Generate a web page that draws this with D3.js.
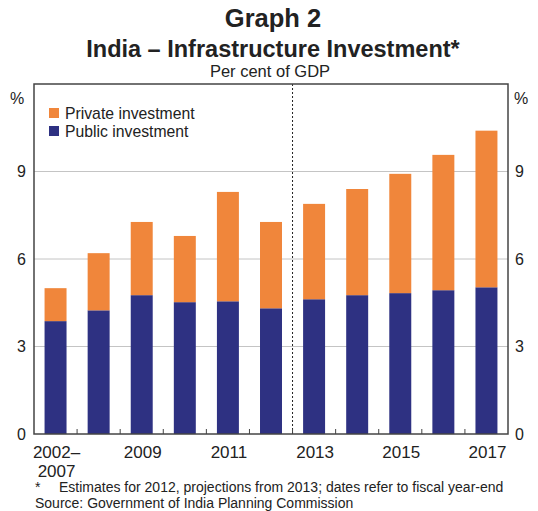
<!DOCTYPE html>
<html>
<head>
<meta charset="utf-8">
<script src="https://cdn.jsdelivr.net/npm/d3@7"></script>
<style>
  body { margin: 0; background: #fff; }
  text { font-family: Arial, "Liberation Sans", sans-serif; fill: #222; }
</style>
</head>
<body>
<div id="chart"></div>
<script>
// data (per cent of GDP)
var years = ["2002–2007", "2008", "2009", "2010", "2011", "2012", "2013", "2014", "2015", "2016", "2017"];
var publicInv  = [3.87, 4.24, 4.76, 4.52, 4.55, 4.31, 4.62, 4.76, 4.83, 4.93, 5.03];
var privateInv = [1.13, 1.96, 2.51, 2.27, 3.75, 2.96, 3.27, 3.64, 4.09, 4.64, 5.37];
var yTicks = [0, 3, 6, 9];
var xLabelled = ["2002–2007", "2009", "2011", "2013", "2015", "2017"];

var W = 538, H = 511;
var margin = {top: 84, right: 30, bottom: 77, left: 34},
    width = W - margin.left - margin.right,
    height = H - margin.top - margin.bottom;

var svg = d3.select("#chart").append("svg")
    .attr("width", W)
    .attr("height", H);

// titles
svg.append("text").attr("x", W / 2 + 4).attr("y", 27)
    .attr("text-anchor", "middle").style("font-size", "25.5px").style("font-weight", "bold")
    .text("Graph 2");
svg.append("text").attr("x", W / 2 + 4).attr("y", 57)
    .attr("text-anchor", "middle").style("font-size", "23.5px").style("font-weight", "bold")
    .text("India – Infrastructure Investment*");
svg.append("text").attr("x", W / 2 + 1).attr("y", 77)
    .attr("text-anchor", "middle").style("font-size", "16.5px")
    .text("Per cent of GDP");

var g = svg.append("g")
    .attr("transform", "translate(" + margin.left + "," + margin.top + ")");

var x = d3.scaleBand().domain(years).range([0, width]).paddingInner(0.49).paddingOuter(0.245);
var y = d3.scaleLinear().domain([0, 12]).range([height, 0]);

// gridlines
g.selectAll(".grid")
    .data(yTicks.filter(function(d) { return d > 0; }))
  .enter().append("line")
    .attr("x1", 0).attr("x2", width)
    .attr("y1", function(d) { return y(d); })
    .attr("y2", function(d) { return y(d); })
    .attr("stroke", "#c4c4c4").attr("stroke-width", 1);

// stacked bars
var rows = years.map(function(yr, i) {
  return {year: yr, pub: publicInv[i], priv: privateInv[i]};
});
var stack = d3.stack().keys(["pub", "priv"])(rows);
var colours = {pub: "#2e3182", priv: "#f0863b"};

g.selectAll(".series")
    .data(stack)
  .enter().append("g")
    .attr("fill", function(d) { return colours[d.key]; })
  .selectAll("rect")
    .data(function(d) { return d; })
  .enter().append("rect")
    .attr("x", function(d) { return x(d.data.year); })
    .attr("width", x.bandwidth())
    .attr("y", function(d) { return y(d[1]); })
    .attr("height", function(d) { return y(d[0]) - y(d[1]); });

// dashed line between 2012 and 2013
var step = x.step();
var splitX = x("2013") - x.paddingInner() * step / 2;
g.append("line")
    .attr("x1", splitX).attr("x2", splitX)
    .attr("y1", 0).attr("y2", height)
    .attr("stroke", "#222").attr("stroke-width", 1)
    .attr("stroke-dasharray", "2,2");

// x tick marks at band boundaries
var bounds = years.slice(1).map(function(yr) { return x(yr) - x.paddingInner() * step / 2; });
g.selectAll(".xtick")
    .data(bounds)
  .enter().append("line")
    .attr("x1", function(d) { return d; }).attr("x2", function(d) { return d; })
    .attr("y1", height).attr("y2", height - 5)
    .attr("stroke", "#444").attr("stroke-width", 1);

// frame
g.append("rect")
    .attr("width", width).attr("height", height)
    .attr("fill", "none").attr("stroke", "#444").attr("stroke-width", 1.5);

// y axes labels
var yLeft = d3.axisLeft(y).tickValues(yTicks).tickSize(0).tickPadding(8);
var yRight = d3.axisRight(y).tickValues(yTicks).tickSize(0).tickPadding(7);
g.append("g").call(yLeft).call(function(s) { s.select(".domain").remove(); })
  .selectAll("text").style("font-size", "16px").attr("fill", "#222");
g.append("g").attr("transform", "translate(" + width + ",0)").call(yRight)
  .call(function(s) { s.select(".domain").remove(); })
  .selectAll("text").style("font-size", "16px").attr("fill", "#222");

g.append("text").attr("x", -17).attr("y", 20)
    .attr("text-anchor", "middle").style("font-size", "16px").text("%");
g.append("text").attr("x", width + 13).attr("y", 20)
    .attr("text-anchor", "middle").style("font-size", "16px").text("%");

// x labels
var xl = g.selectAll(".xlab")
    .data(xLabelled)
  .enter().append("text")
    .attr("text-anchor", "middle")
    .style("font-size", "17px")
    .attr("transform", function(d) {
      return "translate(" + (x(d) + x.bandwidth() / 2 + 1) + "," + (height + 23.5) + ")";
    });
xl.each(function(d) {
  var parts = d.indexOf("–") > 0 ? [d.split("–")[0] + "–", d.split("–")[1]] : [d];
  var t = d3.select(this);
  parts.forEach(function(p, i) {
    t.append("tspan").attr("x", 0).attr("dy", i ? 19.5 : 0).text(p);
  });
});

// legend
var legend = [{label: "Private investment", key: "priv"}, {label: "Public investment", key: "pub"}];
var lg = g.selectAll(".legend")
    .data(legend)
  .enter().append("g")
    .attr("transform", function(d, i) { return "translate(15," + (24 + i * 18) + ")"; });
lg.append("rect").attr("width", 10).attr("height", 10)
    .attr("fill", function(d) { return colours[d.key]; });
lg.append("text").attr("x", 16).attr("y", 10.5)
    .style("font-size", "15.75px").text(function(d) { return d.label; });

// footnotes
svg.append("text").attr("x", 35).attr("y", 492).style("font-size", "14px").text("*");
svg.append("text").attr("x", 59).attr("y", 492).style("font-size", "14px")
    .text("Estimates for 2012, projections from 2013; dates refer to fiscal year-end");
svg.append("text").attr("x", 35).attr("y", 507.5).style("font-size", "14px")
    .text("Source: Government of India Planning Commission");
</script>
</body>
</html>
